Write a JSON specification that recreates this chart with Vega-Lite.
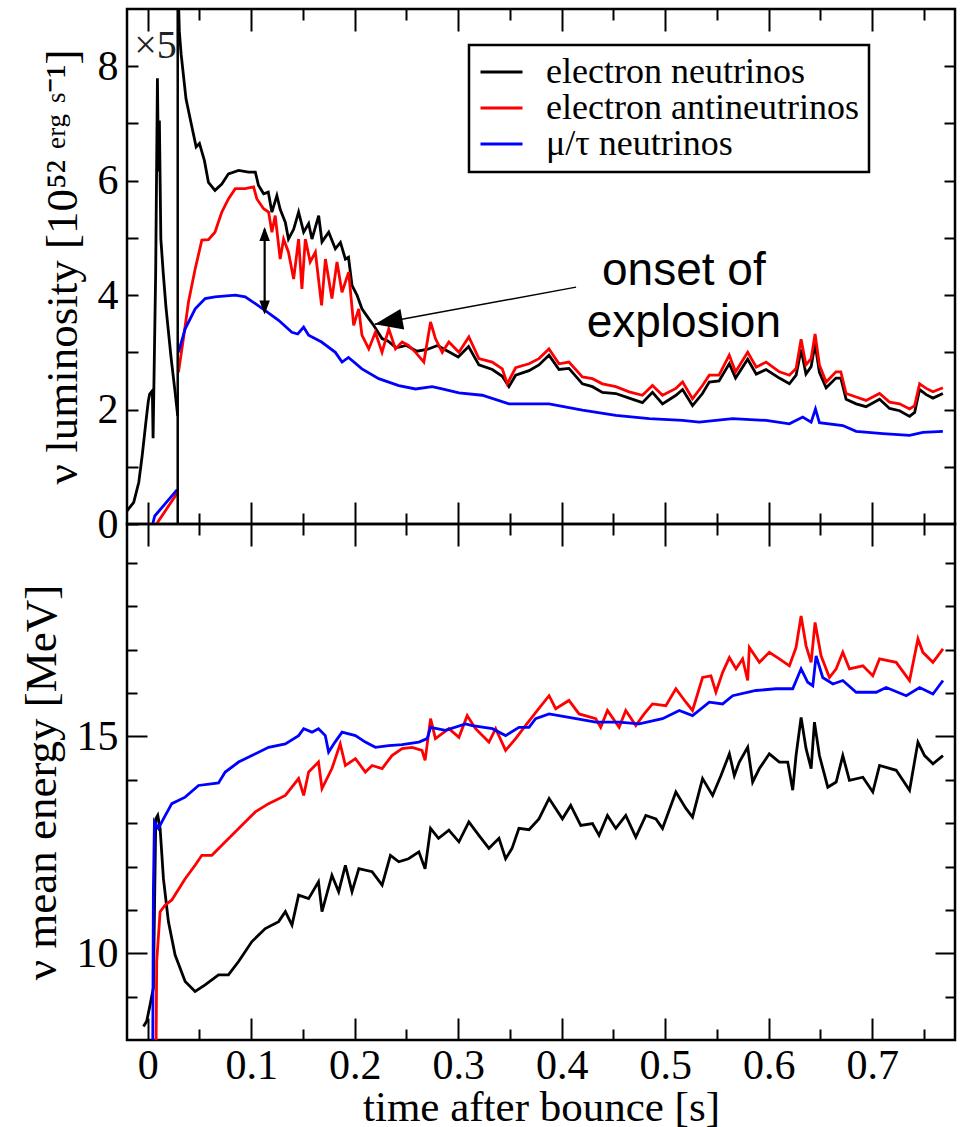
{
 "$schema": "https://vega.github.io/schema/vega-lite/v6.json",
 "background": "white",
 "padding": {"left": 17, "top": 6, "right": 5, "bottom": 0},
 "spacing": 0,
 "bounds": "flush",
 "resolve": {"scale": {"color": "independent"}, "legend": {"color": "independent"}},
 "config": {
  "view": {"stroke": "black", "strokeWidth": 2.5},
  "axis": {"domain": false, "grid": false, "minExtent": 0, "tickColor": "black", "tickWidth": 2, "labelFont": "Liberation Serif", "labelFontSize": 42, "labelColor": "black", "titleFont": "Liberation Serif", "titleFontSize": 45, "titleFontWeight": "normal", "titleColor": "black", "labelFlush": false, "labelOverlap": false}
 },
 "datasets": {
  "lumE": [
   {"s":"p","t":-0.020,"v":0.23},{"s":"p","t":-0.0135,"v":0.38},{"s":"p","t":-0.0086,"v":0.73},{"s":"p","t":-0.0053,"v":1.2},{"s":"p","t":-0.002,"v":1.74},{"s":"p","t":0.0006,"v":2.15},{"s":"p","t":0.0019,"v":2.27},{"s":"p","t":0.0045,"v":2.33},{"s":"p","t":0.0052,"v":1.5},{"s":"p","t":0.0058,"v":2.2},{"s":"p","t":0.0077,"v":4.39},{"s":"p","t":0.0094,"v":7.79},{"s":"p","t":0.0104,"v":6.16},{"s":"p","t":0.0113,"v":7.05},{"s":"p","t":0.0127,"v":4.98},{"s":"p","t":0.015,"v":4.39},{"s":"p","t":0.0176,"v":3.8},{"s":"p","t":0.0225,"v":2.92},{"s":"p","t":0.0265,"v":2.3},{"s":"p","t":0.029,"v":1.89},
   {"s":"m","t":0.029,"v":9.6},{"s":"m","t":0.0306,"v":8.6},{"s":"m","t":0.0323,"v":8.21},{"s":"m","t":0.037,"v":7.43},{"s":"m","t":0.042,"v":7.0},{"s":"m","t":0.0468,"v":6.59},{"s":"m","t":0.05,"v":6.65},{"s":"m","t":0.0548,"v":6.35},{"s":"m","t":0.0587,"v":5.97},{"s":"m","t":0.065,"v":5.83},{"s":"m","t":0.0716,"v":5.94},{"s":"m","t":0.078,"v":6.12},{"s":"m","t":0.0878,"v":6.18},{"s":"m","t":0.0974,"v":6.15},{"s":"m","t":0.104,"v":6.15},{"s":"m","t":0.107,"v":5.92},{"s":"m","t":0.112,"v":5.77},{"s":"m","t":0.1165,"v":5.8},{"s":"m","t":0.12,"v":5.45},{"s":"m","t":0.1248,"v":5.74},{"s":"m","t":0.128,"v":5.5},{"s":"m","t":0.133,"v":5.27},{"s":"m","t":0.136,"v":4.98},{"s":"m","t":0.141,"v":5.15},{"s":"m","t":0.1458,"v":5.45},{"s":"m","t":0.1507,"v":5.1},{"s":"m","t":0.1555,"v":5.25},{"s":"m","t":0.1587,"v":4.98},{"s":"m","t":0.1652,"v":5.39},{"s":"m","t":0.1684,"v":4.93},{"s":"m","t":0.1749,"v":5.1},{"s":"m","t":0.1813,"v":4.81},{"s":"m","t":0.1862,"v":4.92},{"s":"m","t":0.191,"v":4.63},{"s":"m","t":0.194,"v":4.66},{"s":"m","t":0.1974,"v":4.17},{"s":"m","t":0.2022,"v":4.0},{"s":"m","t":0.207,"v":3.76},{"s":"m","t":0.2136,"v":3.59},{"s":"m","t":0.2184,"v":3.47},{"s":"m","t":0.2264,"v":3.24},{"s":"m","t":0.232,"v":3.2},{"s":"m","t":0.24,"v":3.08},{"s":"m","t":0.25,"v":3.12},{"s":"m","t":0.26,"v":3.02},{"s":"m","t":0.27,"v":3.05},{"s":"m","t":0.28,"v":3.12},{"s":"m","t":0.29,"v":3.02},{"s":"m","t":0.3,"v":2.92},{"s":"m","t":0.31,"v":3.1},{"s":"m","t":0.32,"v":2.78},{"s":"m","t":0.333,"v":2.7},{"s":"m","t":0.3426,"v":2.58},{"s":"m","t":0.349,"v":2.4},{"s":"m","t":0.3555,"v":2.6},{"s":"m","t":0.3684,"v":2.68},{"s":"m","t":0.378,"v":2.78},{"s":"m","t":0.3877,"v":2.95},{"s":"m","t":0.3974,"v":2.7},{"s":"m","t":0.407,"v":2.72},{"s":"m","t":0.42,"v":2.45},{"s":"m","t":0.4297,"v":2.4},{"s":"m","t":0.4393,"v":2.3},{"s":"m","t":0.4523,"v":2.28},{"s":"m","t":0.4652,"v":2.2},{"s":"m","t":0.478,"v":2.12},{"s":"m","t":0.4877,"v":2.3},{"s":"m","t":0.4974,"v":2.1},{"s":"m","t":0.5104,"v":2.25},{"s":"m","t":0.5168,"v":2.35},{"s":"m","t":0.5264,"v":2.07},{"s":"m","t":0.536,"v":2.28},{"s":"m","t":0.5426,"v":2.48},{"s":"m","t":0.552,"v":2.5},{"s":"m","t":0.5619,"v":2.8},{"s":"m","t":0.568,"v":2.55},{"s":"m","t":0.5797,"v":2.88},{"s":"m","t":0.588,"v":2.62},{"s":"m","t":0.5975,"v":2.7},{"s":"m","t":0.6103,"v":2.55},{"s":"m","t":0.62,"v":2.45},{"s":"m","t":0.6265,"v":2.6},{"s":"m","t":0.6313,"v":3.05},{"s":"m","t":0.636,"v":2.62},{"s":"m","t":0.641,"v":2.75},{"s":"m","t":0.6448,"v":3.15},{"s":"m","t":0.649,"v":2.65},{"s":"m","t":0.6555,"v":2.38},{"s":"m","t":0.665,"v":2.55},{"s":"m","t":0.6697,"v":2.55},{"s":"m","t":0.6748,"v":2.18},{"s":"m","t":0.6845,"v":2.1},{"s":"m","t":0.694,"v":2.05},{"s":"m","t":0.7071,"v":2.18},{"s":"m","t":0.7168,"v":2.02},{"s":"m","t":0.7265,"v":1.98},{"s":"m","t":0.7361,"v":1.88},{"s":"m","t":0.741,"v":1.95},{"s":"m","t":0.7458,"v":2.35},{"s":"m","t":0.7522,"v":2.26},{"s":"m","t":0.7587,"v":2.2},{"s":"m","t":0.7683,"v":2.28}
  ],
  "lumA": [
   {"s":"p","t":0.0085,"v":0.0},{"s":"p","t":0.0285,"v":0.54},
   {"s":"m","t":0.0297,"v":2.65},{"s":"m","t":0.0345,"v":3.24},{"s":"m","t":0.0394,"v":3.88},{"s":"m","t":0.0459,"v":4.46},{"s":"m","t":0.0523,"v":4.96},{"s":"m","t":0.0587,"v":4.97},{"s":"m","t":0.065,"v":5.1},{"s":"m","t":0.0716,"v":5.45},{"s":"m","t":0.078,"v":5.68},{"s":"m","t":0.0846,"v":5.86},{"s":"m","t":0.0942,"v":5.86},{"s":"m","t":0.1023,"v":5.89},{"s":"m","t":0.1055,"v":5.68},{"s":"m","t":0.112,"v":5.51},{"s":"m","t":0.1168,"v":5.45},{"s":"m","t":0.12,"v":5.1},{"s":"m","t":0.1232,"v":5.39},{"s":"m","t":0.128,"v":4.63},{"s":"m","t":0.1313,"v":4.98},{"s":"m","t":0.136,"v":4.75},{"s":"m","t":0.141,"v":4.28},{"s":"m","t":0.1458,"v":4.98},{"s":"m","t":0.149,"v":4.11},{"s":"m","t":0.1523,"v":4.98},{"s":"m","t":0.157,"v":4.58},{"s":"m","t":0.162,"v":4.75},{"s":"m","t":0.168,"v":3.82},{"s":"m","t":0.1717,"v":4.63},{"s":"m","t":0.178,"v":3.94},{"s":"m","t":0.1829,"v":4.58},{"s":"m","t":0.1877,"v":4.05},{"s":"m","t":0.1942,"v":4.4},{"s":"m","t":0.199,"v":3.47},{"s":"m","t":0.2039,"v":3.76},{"s":"m","t":0.207,"v":3.3},{"s":"m","t":0.2136,"v":3.06},{"s":"m","t":0.22,"v":3.35},{"s":"m","t":0.2264,"v":3.0},{"s":"m","t":0.2329,"v":3.41},{"s":"m","t":0.2394,"v":3.06},{"s":"m","t":0.2458,"v":3.18},{"s":"m","t":0.252,"v":3.12},{"s":"m","t":0.2588,"v":3.0},{"s":"m","t":0.2668,"v":2.83},{"s":"m","t":0.2733,"v":3.53},{"s":"m","t":0.278,"v":3.24},{"s":"m","t":0.2846,"v":3.0},{"s":"m","t":0.291,"v":3.18},{"s":"m","t":0.3007,"v":3.0},{"s":"m","t":0.3103,"v":3.27},{"s":"m","t":0.32,"v":2.89},{"s":"m","t":0.3329,"v":2.83},{"s":"m","t":0.3426,"v":2.71},{"s":"m","t":0.3474,"v":2.45},{"s":"m","t":0.3555,"v":2.73},{"s":"m","t":0.3684,"v":2.8},{"s":"m","t":0.378,"v":2.89},{"s":"m","t":0.3877,"v":3.06},{"s":"m","t":0.3974,"v":2.8},{"s":"m","t":0.407,"v":2.83},{"s":"m","t":0.42,"v":2.57},{"s":"m","t":0.4297,"v":2.54},{"s":"m","t":0.4393,"v":2.45},{"s":"m","t":0.4523,"v":2.4},{"s":"m","t":0.4652,"v":2.31},{"s":"m","t":0.478,"v":2.25},{"s":"m","t":0.4877,"v":2.42},{"s":"m","t":0.4974,"v":2.25},{"s":"m","t":0.5104,"v":2.37},{"s":"m","t":0.5168,"v":2.48},{"s":"m","t":0.5264,"v":2.19},{"s":"m","t":0.536,"v":2.42},{"s":"m","t":0.5426,"v":2.6},{"s":"m","t":0.552,"v":2.6},{"s":"m","t":0.5619,"v":2.95},{"s":"m","t":0.568,"v":2.66},{"s":"m","t":0.5797,"v":3.0},{"s":"m","t":0.588,"v":2.74},{"s":"m","t":0.5975,"v":2.83},{"s":"m","t":0.6103,"v":2.66},{"s":"m","t":0.62,"v":2.6},{"s":"m","t":0.6265,"v":2.72},{"s":"m","t":0.6313,"v":3.23},{"s":"m","t":0.636,"v":2.78},{"s":"m","t":0.641,"v":2.89},{"s":"m","t":0.6448,"v":3.32},{"s":"m","t":0.649,"v":2.78},{"s":"m","t":0.6555,"v":2.48},{"s":"m","t":0.665,"v":2.66},{"s":"m","t":0.6697,"v":2.66},{"s":"m","t":0.6748,"v":2.28},{"s":"m","t":0.6845,"v":2.22},{"s":"m","t":0.694,"v":2.16},{"s":"m","t":0.7071,"v":2.28},{"s":"m","t":0.7168,"v":2.13},{"s":"m","t":0.7265,"v":2.1},{"s":"m","t":0.7361,"v":2.01},{"s":"m","t":0.741,"v":2.07},{"s":"m","t":0.7458,"v":2.45},{"s":"m","t":0.7522,"v":2.37},{"s":"m","t":0.7587,"v":2.31},{"s":"m","t":0.7683,"v":2.38}
  ],
  "lumX": [
   {"s":"p","t":0.0048,"v":0.0},{"s":"p","t":0.0068,"v":0.14},{"s":"p","t":0.0285,"v":0.6},
   {"s":"m","t":0.0297,"v":3.0},{"s":"m","t":0.0362,"v":3.41},{"s":"m","t":0.0459,"v":3.76},{"s":"m","t":0.0555,"v":3.94},{"s":"m","t":0.065,"v":3.97},{"s":"m","t":0.0846,"v":4.0},{"s":"m","t":0.0942,"v":3.97},{"s":"m","t":0.104,"v":3.85},{"s":"m","t":0.1136,"v":3.73},{"s":"m","t":0.1265,"v":3.56},{"s":"m","t":0.1393,"v":3.35},{"s":"m","t":0.145,"v":3.32},{"s":"m","t":0.1507,"v":3.44},{"s":"m","t":0.1555,"v":3.3},{"s":"m","t":0.168,"v":3.18},{"s":"m","t":0.1813,"v":3.0},{"s":"m","t":0.1878,"v":2.83},{"s":"m","t":0.194,"v":2.91},{"s":"m","t":0.207,"v":2.71},{"s":"m","t":0.2232,"v":2.54},{"s":"m","t":0.2426,"v":2.42},{"s":"m","t":0.2588,"v":2.36},{"s":"m","t":0.2748,"v":2.4},{"s":"m","t":0.2845,"v":2.36},{"s":"m","t":0.3007,"v":2.29},{"s":"m","t":0.3232,"v":2.25},{"s":"m","t":0.349,"v":2.1},{"s":"m","t":0.3877,"v":2.1},{"s":"m","t":0.42,"v":1.99},{"s":"m","t":0.4523,"v":1.9},{"s":"m","t":0.4845,"v":1.84},{"s":"m","t":0.5167,"v":1.81},{"s":"m","t":0.5329,"v":1.78},{"s":"m","t":0.5651,"v":1.84},{"s":"m","t":0.5975,"v":1.81},{"s":"m","t":0.62,"v":1.75},{"s":"m","t":0.6329,"v":1.87},{"s":"m","t":0.641,"v":1.78},{"s":"m","t":0.6452,"v":2.01},{"s":"m","t":0.649,"v":1.77},{"s":"m","t":0.6716,"v":1.72},{"s":"m","t":0.6845,"v":1.62},{"s":"m","t":0.7103,"v":1.58},{"s":"m","t":0.7361,"v":1.55},{"s":"m","t":0.749,"v":1.6},{"s":"m","t":0.7683,"v":1.62}
  ],
  "enE": [
   {"t":-0.0041,"v":8.31},{"t":-0.001,"v":8.43},{"t":0.0023,"v":8.81},{"t":0.0055,"v":9.2},{"t":0.0078,"v":13.1},{"t":0.0097,"v":13.18},{"t":0.012,"v":12.88},{"t":0.0152,"v":11.72},{"t":0.02,"v":10.73},{"t":0.0265,"v":9.96},{"t":0.0362,"v":9.35},{"t":0.0458,"v":9.12},{"t":0.0555,"v":9.27},{"t":0.0684,"v":9.5},{"t":0.078,"v":9.5},{"t":0.0878,"v":9.81},{"t":0.1007,"v":10.27},{"t":0.1136,"v":10.57},{"t":0.1265,"v":10.73},{"t":0.133,"v":10.96},{"t":0.1394,"v":10.65},{"t":0.1458,"v":11.34},{"t":0.1555,"v":11.26},{"t":0.165,"v":11.65},{"t":0.1684,"v":10.96},{"t":0.178,"v":11.8},{"t":0.1845,"v":11.42},{"t":0.191,"v":12.03},{"t":0.1974,"v":11.42},{"t":0.204,"v":11.95},{"t":0.2168,"v":11.88},{"t":0.2265,"v":11.57},{"t":0.2345,"v":12.26},{"t":0.2426,"v":12.11},{"t":0.252,"v":12.18},{"t":0.262,"v":12.34},{"t":0.268,"v":11.95},{"t":0.2733,"v":12.88},{"t":0.281,"v":12.65},{"t":0.291,"v":12.84},{"t":0.3007,"v":12.57},{"t":0.3103,"v":13.03},{"t":0.32,"v":12.72},{"t":0.3297,"v":12.42},{"t":0.3394,"v":12.65},{"t":0.3458,"v":12.18},{"t":0.352,"v":12.42},{"t":0.3587,"v":12.88},{"t":0.3684,"v":12.85},{"t":0.378,"v":13.1},{"t":0.3878,"v":13.57},{"t":0.4007,"v":13.1},{"t":0.4087,"v":13.41},{"t":0.4184,"v":12.95},{"t":0.4297,"v":12.99},{"t":0.4361,"v":12.72},{"t":0.4442,"v":13.18},{"t":0.4523,"v":12.88},{"t":0.4619,"v":13.18},{"t":0.4716,"v":12.68},{"t":0.4813,"v":13.18},{"t":0.491,"v":13.1},{"t":0.4974,"v":12.88},{"t":0.5103,"v":13.72},{"t":0.52,"v":13.34},{"t":0.5264,"v":13.14},{"t":0.5361,"v":14.03},{"t":0.5458,"v":13.64},{"t":0.5539,"v":14.1},{"t":0.562,"v":14.6},{"t":0.5668,"v":14.1},{"t":0.5716,"v":14.41},{"t":0.5797,"v":14.75},{"t":0.5845,"v":13.95},{"t":0.591,"v":14.26},{"t":0.6006,"v":14.6},{"t":0.6103,"v":14.41},{"t":0.6184,"v":14.41},{"t":0.6232,"v":13.76},{"t":0.6264,"v":14.56},{"t":0.6313,"v":15.44},{"t":0.6361,"v":14.72},{"t":0.641,"v":14.26},{"t":0.6442,"v":15.33},{"t":0.649,"v":14.56},{"t":0.6571,"v":13.83},{"t":0.6652,"v":13.95},{"t":0.6716,"v":14.56},{"t":0.678,"v":13.99},{"t":0.691,"v":14.06},{"t":0.7006,"v":13.72},{"t":0.7071,"v":14.33},{"t":0.7232,"v":14.22},{"t":0.7361,"v":13.76},{"t":0.7442,"v":14.87},{"t":0.7506,"v":14.56},{"t":0.7587,"v":14.37},{"t":0.7684,"v":14.56}
  ],
  "enA": [
   {"t":0.0081,"v":7.9},{"t":0.0087,"v":9.81},{"t":0.012,"v":10.96},{"t":0.0168,"v":11.11},{"t":0.0233,"v":11.23},{"t":0.0362,"v":11.72},{"t":0.0458,"v":12.03},{"t":0.0523,"v":12.26},{"t":0.062,"v":12.26},{"t":0.075,"v":12.57},{"t":0.091,"v":12.95},{"t":0.104,"v":13.26},{"t":0.1168,"v":13.45},{"t":0.133,"v":13.64},{"t":0.1458,"v":14.03},{"t":0.1507,"v":13.64},{"t":0.1555,"v":14.18},{"t":0.165,"v":14.41},{"t":0.1684,"v":13.8},{"t":0.178,"v":14.26},{"t":0.186,"v":14.83},{"t":0.191,"v":14.33},{"t":0.2007,"v":14.49},{"t":0.2103,"v":14.18},{"t":0.2168,"v":14.33},{"t":0.2265,"v":14.26},{"t":0.236,"v":14.56},{"t":0.2458,"v":14.72},{"t":0.2555,"v":14.75},{"t":0.265,"v":14.68},{"t":0.268,"v":14.45},{"t":0.2733,"v":15.41},{"t":0.278,"v":14.95},{"t":0.291,"v":15.18},{"t":0.3007,"v":14.98},{"t":0.3087,"v":15.48},{"t":0.3168,"v":15.18},{"t":0.3297,"v":14.87},{"t":0.3362,"v":15.18},{"t":0.3458,"v":14.68},{"t":0.3555,"v":14.95},{"t":0.365,"v":15.25},{"t":0.3765,"v":15.6},{"t":0.3878,"v":15.94},{"t":0.3942,"v":15.64},{"t":0.407,"v":15.83},{"t":0.4168,"v":15.52},{"t":0.4329,"v":15.41},{"t":0.4377,"v":15.21},{"t":0.4442,"v":15.6},{"t":0.4555,"v":15.21},{"t":0.4619,"v":15.6},{"t":0.4716,"v":15.25},{"t":0.4797,"v":15.52},{"t":0.4877,"v":15.75},{"t":0.5006,"v":15.71},{"t":0.5103,"v":16.1},{"t":0.52,"v":15.79},{"t":0.5264,"v":15.6},{"t":0.5361,"v":16.36},{"t":0.5442,"v":16.4},{"t":0.549,"v":16.02},{"t":0.5555,"v":16.48},{"t":0.562,"v":16.82},{"t":0.5684,"v":16.56},{"t":0.5748,"v":16.79},{"t":0.5797,"v":16.29},{"t":0.5813,"v":17.05},{"t":0.591,"v":16.71},{"t":0.6006,"v":16.94},{"t":0.6103,"v":16.79},{"t":0.62,"v":16.63},{"t":0.6264,"v":17.05},{"t":0.6313,"v":17.78},{"t":0.6361,"v":17.09},{"t":0.641,"v":16.71},{"t":0.6448,"v":17.63},{"t":0.6506,"v":16.86},{"t":0.6587,"v":16.36},{"t":0.6652,"v":16.56},{"t":0.6716,"v":16.94},{"t":0.678,"v":16.56},{"t":0.691,"v":16.63},{"t":0.7006,"v":16.4},{"t":0.7071,"v":16.79},{"t":0.7232,"v":16.71},{"t":0.7361,"v":16.29},{"t":0.7442,"v":17.25},{"t":0.749,"v":16.94},{"t":0.7587,"v":16.71},{"t":0.7684,"v":17.02}
  ],
  "enX": [
   {"t":0.0049,"v":7.9},{"t":0.0055,"v":11.46},{"t":0.0065,"v":13.03},{"t":0.0104,"v":12.88},{"t":0.0152,"v":13.1},{"t":0.0233,"v":13.45},{"t":0.0362,"v":13.6},{"t":0.0491,"v":13.87},{"t":0.0684,"v":13.93},{"t":0.0749,"v":14.18},{"t":0.0878,"v":14.41},{"t":0.1007,"v":14.56},{"t":0.1168,"v":14.75},{"t":0.133,"v":14.83},{"t":0.1458,"v":15.02},{"t":0.1507,"v":15.18},{"t":0.1587,"v":15.1},{"t":0.165,"v":15.18},{"t":0.1716,"v":15.02},{"t":0.1748,"v":14.64},{"t":0.181,"v":14.87},{"t":0.1878,"v":15.1},{"t":0.2007,"v":15.02},{"t":0.2103,"v":14.87},{"t":0.22,"v":14.75},{"t":0.2329,"v":14.79},{"t":0.2458,"v":14.81},{"t":0.262,"v":14.87},{"t":0.27,"v":14.95},{"t":0.2733,"v":15.21},{"t":0.2877,"v":15.14},{"t":0.3071,"v":15.29},{"t":0.3136,"v":15.25},{"t":0.333,"v":15.18},{"t":0.3458,"v":15.02},{"t":0.3587,"v":15.21},{"t":0.3684,"v":15.21},{"t":0.3748,"v":15.41},{"t":0.3878,"v":15.52},{"t":0.407,"v":15.44},{"t":0.4329,"v":15.33},{"t":0.4555,"v":15.33},{"t":0.4748,"v":15.29},{"t":0.4974,"v":15.41},{"t":0.5136,"v":15.6},{"t":0.5264,"v":15.48},{"t":0.5426,"v":15.79},{"t":0.5555,"v":15.75},{"t":0.5652,"v":15.94},{"t":0.5877,"v":16.06},{"t":0.6071,"v":16.1},{"t":0.6232,"v":16.1},{"t":0.6313,"v":16.56},{"t":0.6377,"v":16.25},{"t":0.6426,"v":16.17},{"t":0.6458,"v":16.86},{"t":0.6522,"v":16.36},{"t":0.662,"v":16.21},{"t":0.6716,"v":16.29},{"t":0.6845,"v":16.02},{"t":0.7039,"v":16.02},{"t":0.7135,"v":16.13},{"t":0.7329,"v":15.94},{"t":0.7458,"v":16.13},{"t":0.7587,"v":15.98},{"t":0.7684,"v":16.29}
  ]
 },
 "vconcat": [
  {
   "width": 828,
   "height": 515,
   "resolve": {"axis": {"x": "independent", "y": "independent"}},
   "layer": [
    {
     "data": {"name": "lumE"},
     "mark": {"type": "line", "strokeWidth": 2.8, "clip": true},
     "encoding": {
      "x": {"field": "t", "type": "quantitative", "scale": {"domain": [-0.02, 0.78], "nice": false, "zero": false}, "axis": {"orient": "bottom", "values": [0, 0.1, 0.2, 0.3, 0.4, 0.5, 0.6, 0.7], "tickSize": -22, "labels": false, "title": null}},
      "y": {"field": "v", "type": "quantitative", "scale": {"domain": [0, 9], "nice": false, "zero": false}, "axis": {"orient": "left", "values": [0, 1, 2, 3, 4, 5, 6, 7, 8], "tickSize": -11, "labelPadding": 20, "labelExpr": "datum.value % 2 === 0 ? datum.label : ''", "title": "ν luminosity [10⁵² ᵉʳᵍ ˢ⁻¹]", "titlePadding": 12}},
      "color": {"datum": "electron neutrinos", "type": "nominal", "scale": {"domain": ["electron neutrinos", "electron antineutrinos", "μ/τ neutrinos"], "range": ["#000000", "#ff0000", "#0000ff"]},
       "legend": {"orient": "none", "legendX": 342, "legendY": 36, "title": null, "labelFont": "Liberation Serif", "labelFontSize": 36, "labelColor": "black", "symbolType": "stroke", "symbolSize": 1764, "symbolStrokeWidth": 3, "strokeColor": "black", "fillColor": "white", "padding": 10, "rowPadding": 0, "clipHeight": 34, "labelOffset": 22, "labelLimit": 0, "encode": {"legend": {"update": {"strokeWidth": {"value": 2.5}}}}}},
      "detail": {"field": "s", "type": "nominal"}
     }
    },
    {
     "data": {"name": "lumA"},
     "mark": {"type": "line", "strokeWidth": 2.8, "clip": true},
     "encoding": {
      "x": {"field": "t", "type": "quantitative", "axis": null},
      "y": {"field": "v", "type": "quantitative", "axis": null},
      "color": {"datum": "electron antineutrinos", "type": "nominal"},
      "detail": {"field": "s", "type": "nominal"}
     }
    },
    {
     "data": {"name": "lumX"},
     "mark": {"type": "line", "strokeWidth": 2.8, "clip": true},
     "encoding": {
      "x": {"field": "t", "type": "quantitative", "axis": null},
      "y": {"field": "v", "type": "quantitative", "axis": null},
      "color": {"datum": "μ/τ neutrinos", "type": "nominal"},
      "detail": {"field": "s", "type": "nominal"}
     }
    },
    {
     "data": {"values": [{"t": 0, "v": 1}]},
     "mark": {"type": "point", "opacity": 0},
     "encoding": {
      "x": {"field": "t", "type": "quantitative", "axis": {"orient": "bottom", "values": [0.05, 0.15, 0.25, 0.35, 0.45, 0.55, 0.65, 0.75], "tickSize": -11, "labels": false, "title": null}},
      "y": {"field": "v", "type": "quantitative", "axis": null}
     }
    },
    {
     "data": {"values": [{"t": 0, "v": 1}]},
     "mark": {"type": "point", "opacity": 0},
     "encoding": {
      "x": {"field": "t", "type": "quantitative", "axis": {"orient": "top", "values": [0, 0.1, 0.2, 0.3, 0.4, 0.5, 0.6, 0.7], "tickSize": -22, "labels": false, "title": null}},
      "y": {"field": "v", "type": "quantitative", "axis": {"orient": "right", "values": [1, 2, 3, 4, 5, 6, 7, 8], "tickSize": -11, "labels": false, "title": null}}
     }
    },
    {
     "data": {"values": [{"t": 0, "v": 1}]},
     "mark": {"type": "point", "opacity": 0},
     "encoding": {
      "x": {"field": "t", "type": "quantitative", "axis": {"orient": "top", "values": [0.05, 0.15, 0.25, 0.35, 0.45, 0.55, 0.65, 0.75], "tickSize": -11, "labels": false, "title": null}},
      "y": {"field": "v", "type": "quantitative", "axis": null}
     }
    },
    {
     "data": {"values": [{"t": 0.029, "v": 0, "v2": 9}]},
     "mark": {"type": "rule", "strokeWidth": 2.5, "color": "black"},
     "encoding": {
      "x": {"field": "t", "type": "quantitative", "axis": null},
      "y": {"field": "v", "type": "quantitative", "axis": null},
      "y2": {"field": "v2"}
     }
    },
    {
     "data": {"values": [{"t": 0.0075, "v": 8.35, "txt": "×5"}]},
     "mark": {"type": "text", "font": "Liberation Serif", "fontSize": 40, "color": "#222222", "align": "center", "baseline": "middle"},
     "encoding": {
      "x": {"field": "t", "type": "quantitative", "axis": null},
      "y": {"field": "v", "type": "quantitative", "axis": null},
      "text": {"field": "txt"}
     }
    },
    {
     "data": {"values": [{"t": 0.113, "v": 3.7, "v2": 5.15}]},
     "mark": {"type": "rule", "strokeWidth": 2.2, "color": "black"},
     "encoding": {
      "x": {"field": "t", "type": "quantitative", "axis": null},
      "y": {"field": "v", "type": "quantitative", "axis": null},
      "y2": {"field": "v2"}
     }
    },
    {
     "data": {"values": [{"t": 0.113, "v": 5.19}]},
     "mark": {"type": "point", "shape": "M0,0L-2,-0.75L-2,0.75Z", "filled": true, "color": "black", "opacity": 1, "size": 196, "angle": 270},
     "encoding": {
      "x": {"field": "t", "type": "quantitative", "axis": null},
      "y": {"field": "v", "type": "quantitative", "axis": null}
     }
    },
    {
     "data": {"values": [{"t": 0.113, "v": 3.66}]},
     "mark": {"type": "point", "shape": "M0,0L-2,-0.75L-2,0.75Z", "filled": true, "color": "black", "opacity": 1, "size": 196, "angle": 90},
     "encoding": {
      "x": {"field": "t", "type": "quantitative", "axis": null},
      "y": {"field": "v", "type": "quantitative", "axis": null}
     }
    },
    {
     "data": {"values": [{"t": 0.2194, "v": 3.49, "t2": 0.4139, "v2": 4.14}]},
     "mark": {"type": "rule", "strokeWidth": 1.4, "color": "black"},
     "encoding": {
      "x": {"field": "t", "type": "quantitative", "axis": null},
      "y": {"field": "v", "type": "quantitative", "axis": null},
      "x2": {"field": "t2"},
      "y2": {"field": "v2"}
     }
    },
    {
     "data": {"values": [{"t": 0.2194, "v": 3.49}]},
     "mark": {"type": "point", "shape": "M0,0L-2,-0.75L-2,0.75Z", "filled": true, "color": "black", "opacity": 1, "size": 784, "angle": 169.6},
     "encoding": {
      "x": {"field": "t", "type": "quantitative", "axis": null},
      "y": {"field": "v", "type": "quantitative", "axis": null}
     }
    },
    {
     "data": {"values": [{"t": 0.518, "v": 4.17, "txt": "onset of"}, {"t": 0.518, "v": 3.27, "txt": "explosion"}]},
     "mark": {"type": "text", "font": "Liberation Sans", "fontSize": 46, "color": "black", "align": "center", "baseline": "alphabetic"},
     "encoding": {
      "x": {"field": "t", "type": "quantitative", "axis": null},
      "y": {"field": "v", "type": "quantitative", "axis": null},
      "text": {"field": "txt"}
     }
    }
   ]
  },
  {
   "width": 828,
   "height": 516,
   "resolve": {"axis": {"x": "independent", "y": "independent"}},
   "layer": [
    {
     "data": {"name": "enE"},
     "mark": {"type": "line", "strokeWidth": 2.8, "clip": true},
     "encoding": {
      "x": {"field": "t", "type": "quantitative", "scale": {"domain": [-0.02, 0.78], "nice": false, "zero": false}, "axis": {"orient": "bottom", "values": [0, 0.1, 0.2, 0.3, 0.4, 0.5, 0.6, 0.7], "format": "~g", "tickSize": -22, "labelPadding": 27, "title": "time after bounce [s]", "titleFontSize": 43, "titlePadding": 0}},
      "y": {"field": "v", "type": "quantitative", "scale": {"domain": [8, 19.9], "nice": false, "zero": false}, "axis": {"orient": "left", "values": [10, 15], "tickSize": -20, "labelPadding": 29, "title": "ν mean energy [MeV]", "titlePadding": 12}},
      "color": {"datum": "electron neutrinos", "type": "nominal", "scale": {"domain": ["electron neutrinos", "electron antineutrinos", "μ/τ neutrinos"], "range": ["#000000", "#ff0000", "#0000ff"]}, "legend": null}
     }
    },
    {
     "data": {"name": "enA"},
     "mark": {"type": "line", "strokeWidth": 2.8, "clip": true},
     "encoding": {
      "x": {"field": "t", "type": "quantitative", "axis": null},
      "y": {"field": "v", "type": "quantitative", "axis": null},
      "color": {"datum": "electron antineutrinos", "type": "nominal"}
     }
    },
    {
     "data": {"name": "enX"},
     "mark": {"type": "line", "strokeWidth": 2.8, "clip": true},
     "encoding": {
      "x": {"field": "t", "type": "quantitative", "axis": null},
      "y": {"field": "v", "type": "quantitative", "axis": null},
      "color": {"datum": "μ/τ neutrinos", "type": "nominal"}
     }
    },
    {
     "data": {"values": [{"t": 0, "v": 10}]},
     "mark": {"type": "point", "opacity": 0},
     "encoding": {
      "x": {"field": "t", "type": "quantitative", "axis": {"orient": "bottom", "values": [0.05, 0.15, 0.25, 0.35, 0.45, 0.55, 0.65, 0.75], "tickSize": -11, "labels": false, "title": null}},
      "y": {"field": "v", "type": "quantitative", "axis": {"orient": "left", "values": [9, 11, 12, 13, 14, 16, 17, 18, 19], "tickSize": -10, "labels": false, "title": null}}
     }
    },
    {
     "data": {"values": [{"t": 0, "v": 10}]},
     "mark": {"type": "point", "opacity": 0},
     "encoding": {
      "x": {"field": "t", "type": "quantitative", "axis": {"orient": "top", "values": [0, 0.1, 0.2, 0.3, 0.4, 0.5, 0.6, 0.7], "tickSize": -22, "labels": false, "title": null}},
      "y": {"field": "v", "type": "quantitative", "axis": {"orient": "right", "values": [10, 15], "tickSize": -20, "labels": false, "title": null}}
     }
    },
    {
     "data": {"values": [{"t": 0, "v": 10}]},
     "mark": {"type": "point", "opacity": 0},
     "encoding": {
      "x": {"field": "t", "type": "quantitative", "axis": {"orient": "top", "values": [0.05, 0.15, 0.25, 0.35, 0.45, 0.55, 0.65, 0.75], "tickSize": -11, "labels": false, "title": null}},
      "y": {"field": "v", "type": "quantitative", "axis": {"orient": "right", "values": [9, 11, 12, 13, 14, 16, 17, 18, 19], "tickSize": -10, "labels": false, "title": null}}
     }
    }
   ]
  }
 ]
}
